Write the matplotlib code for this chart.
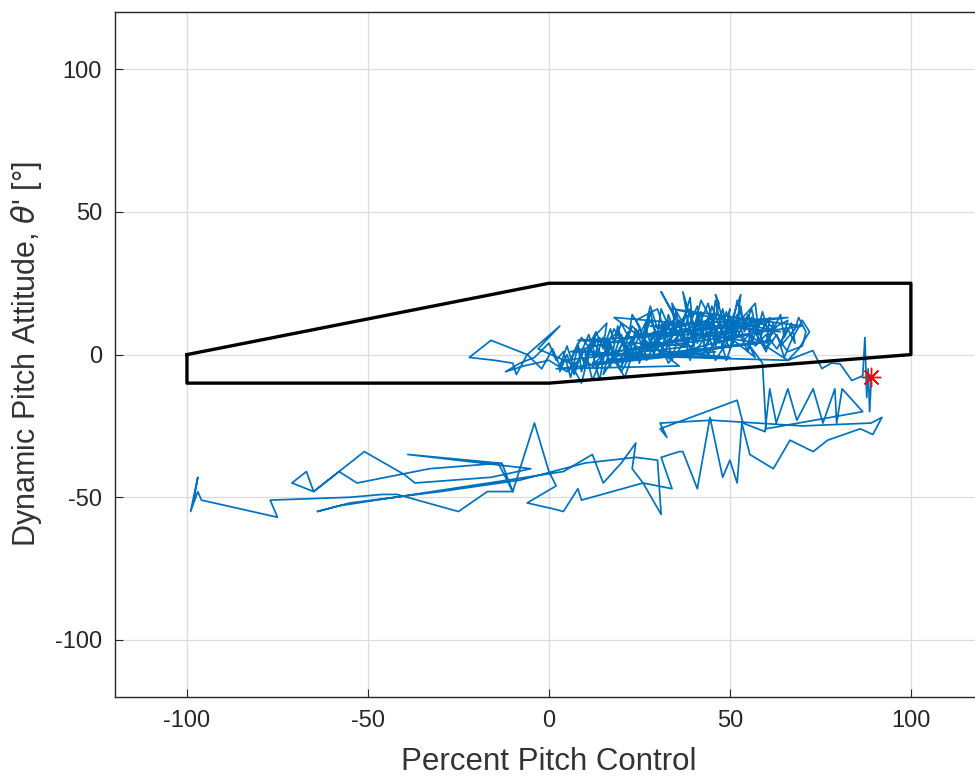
import matplotlib
matplotlib.use('Agg')
import matplotlib.pyplot as plt

plt.rcParams['font.family'] = ['Liberation Sans', 'DejaVu Sans']
plt.rcParams['axes.unicode_minus'] = False

# envelope (percent control, pitch deg)
env_x = [-100, 0, 100, 100, 0, -100, -100]
env_y = [0, 25, 25, 0, -10, -10, 0]

# lower band of the trace, starting at the far left
low_x = [-98, -97, -99, -97, -96, -75, -77, -55, -46, -42, -25, -17, -10, -14, -39, -5, -16, -37,
         -40, -51, -58, -65, -71, -67, -65, -58, -53, -33, -13, -10, -4, 0, 2, -6, 1, 4, 8, 9, 26,
         23, 24, 20, 15, 12, 4, -58, -64, -55, -30, -8, 10, 24, 30, 31, 26, 34, 31, 36]
low_y = [-50, -43, -55, -48, -51, -57, -51, -50, -49, -49, -55, -48, -48, -38, -35, -40, -43, -45,
         -42, -34, -41, -48, -45, -41, -48, -41, -45, -40, -38, -48, -24, -41, -46, -52, -54, -55,
         -47, -51, -45, -40, -31, -38, -45, -35, -41, -53, -55, -52, -48, -44, -38, -36, -37, -56,
         -45, -47, -36, -34]

# right side zigzags below the envelope
right_x = [37, 41, 44.5, 48, 50, 52, 53.3, 55.5, 62, 66.6, 73, 77, 86, 89.5, 92, 89, 70, 45,
           30.7, 32.6, 30.7, 52, 53.6, 59.7, 61, 62.8, 66, 68.5, 73, 75.7, 79, 79.5, 81, 86.7,
           60, 59]
right_y = [-34, -47, -22, -43, -37, -45, -24, -35, -40, -30, -34, -30, -26, -28, -22, -24, -25,
           -23, -24, -29, -26, -16, -24, -27, -12, -24, -12, -23, -12, -24, -12, -24, -12, -20,
           -26, -3]

# dense cluster inside the envelope, first pass
clu_x = [55, 57, 50, 46, 44, 40, 38, 33, 30, 27, 24, 20, 17, 14, 12, 10, 7, 5, 3, 1, -2, -6, -9,
         -10, -15, -22, -16, -6, 3, -3, 6, 9, 11, 13, 16, 15, 19, 22, 20, 25, 27, 24, 30, 32, 29,
         35, 31, 36, 38, 37, 40, 42, 45, 44, 47, 46, 49, 50, 48, 53, 52, 55, 57, 58, 61, 60, 63,
         66, 64, 68, 69, 71, 70, 66, 62, 58, 54, 52, 50, 47, 45, 43, 41, 39, 37, 34, 33, 30, 28,
         26, 23, 21, 18, 15, 12, 10, 8, 6, 4, 2, 0, -4, -8, -12, -7, 0, 5, 9, 13, 16, 19, 23, 26,
         29, 32, 35, 38, 41, 44, 47, 49, 52, 55, 57, 60, 63, 65, 67, 70, 72, 69, 66]
clu_y = [4, -1, 6, -2, 8, 0, 5, -3, 6, -2, 3, -6, 4, -3, -9, 2, -5, 3, -4, 2, -5, 0, -7, -3, -2,
         -1, 5, 0, 10, 2, -3, -10, 0, 7, 11, 3, 8, 2, -4, 9, 4, 12, 16, 8, 3, 13, 22, 10, 15, 22,
         9, 19, 12, 4, 18, 21, 8, 16, 3, 21, 11, 15, 18, 7, 13, 4, 10, 12, 3, 9, 13, 8, 3, 1, 8,
         12, 5, 14, 2, 10, 17, 5, 13, -2, 9, 4, 12, 9, 17, 6, 10, 3, 9, -1, 5, -4, 3, -8, 1, -2,
         4, -1, -3, -6, -4, -2, -6, -1, -5, 2, -3, 5, -1, 8, 1, 9, 3, 11, 0, 7, -2, 9, 1, 11, 2, 7,
         -1, 5, 12, 8, 2, -2]

# dense cluster, second pass
clu2_x = [10, 14, 12, 17, 15, 19, 22, 18, 21, 24, 27, 25, 29, 31, 33, 35, 34, 37, 39, 40, 42,
          43, 45, 46, 48, 47, 50, 51, 53, 54, 56, 55, 58, 59, 61, 62, 60, 57, 55, 52, 50, 48, 46,
          44, 42, 41, 39, 38, 36, 34, 33, 31, 30, 28, 26, 25, 23, 22, 20, 18, 17, 15, 13, 11, 9,
          8, 6, 9, 12, 14, 16, 18, 20, 22, 24, 26, 28, 30, 32, 34, 36, 38, 40, 42, 44, 46, 48, 50,
          52, 54, 56, 58, 60, 62, 64, 65, 67, 68, 66, 63, 60, 57, 54, 51, 49, 47, 45, 43, 41, 39,
          37, 35, 33, 31, 29, 27, 25, 23, 21, 19, 17, 15, 13, 11, 9, 7, 5, 3]
clu2_y = [0, 6, -4, 3, -7, 1, 8, -2, -8, 4, 12, 0, 6, -1, 14, 7, 18, 11, 20, 6, 15, 1, 10, 19, 7,
          14, 11, 4, 17, 8, 13, 2, 10, 15, 6, 11, 1, 8, 14, 6, 13, 9, 3, 13, 8, 17, 11, 4, 12, 6,
          10, 16, 7, 12, 5, 10, 14, 6, 11, 4, 9, 2, 8, 3, -6, 4, -2, 6, 1, -9, 5, 0, 7, -1, 9, 2,
          15, 4, 11, -2, 8, 14, 3, 12, 18, 6, 16, 5, 19, 10, 16, 4, 12, 9, 14, 6, 11, 4, 9, 2, 7,
          3, 12, 9, 15, 4, 14, 9, 4, 16, 6, 15, 3, 9, 0, 8, -3, 6, 1, 10, -4, 6, -1, 7, 1, -7, 0,
          -6]

# long sweeps across the cluster
sweep_x = [4, 40, 8, 52, 14, 60, 22, 66, 28, 58, 12, 46, 2, 36, 18, 64, 34, 70, 26, 50, 6, 44,
           16, 62, 30, 55, 66]
sweep_y = [-2, 3, 5, 8, 0, 11, 6, 13, 10, 4, -3, 1, -5, -4, 13, 8, 16, 10, 2, -1, 1, 12, -2, 5,
           -1, 7, -2]

# tail toward the final point
tail_x = [70, 72.9, 75.4, 78, 80.4, 83.7, 86.7, 87.3, 87.8, 88.2, 88.6, 89, 88.7]
tail_y = [0, 1.4, -4.9, -3, -3.2, -9.1, -7.4, 6, -15, -5, -20, -10, -8.1]

end_x = 89
end_y = -8

trace_x = low_x + right_x + clu_x + clu2_x + sweep_x + tail_x
trace_y = low_y + right_y + clu_y + clu2_y + sweep_y + tail_y

fig = plt.figure(figsize=(9.75, 7.8), dpi=100)
ax = fig.add_axes([0.1175, 0.1064, 0.891, 0.878])

ax.plot(trace_x, trace_y, color='#0072BD', lw=1.25)
ax.plot(env_x, env_y, color='black', lw=2.4)
ax.plot(end_x, end_y, ls='none', marker=(8, 2, 0), ms=14, mec='red', mfc='red', mew=1.0)

ax.set_xlim(-120, 120)
ax.set_ylim(-120, 120)
ax.set_xticks([-100, -50, 0, 50, 100])
ax.set_yticks([-100, -50, 0, 50, 100])
ax.grid(True, color='#dcdcdc', lw=0.9)
ax.set_axisbelow(True)
ax.tick_params(direction='in', length=6, colors='#262626', labelsize=17, pad=9)
for s in ax.spines.values():
    s.set_color('#262626')
    s.set_linewidth(1.0)

ax.set_xlabel('Percent Pitch Control', fontsize=22.5, color='#333333', labelpad=11)
ax.set_ylabel("Dynamic Pitch Attitude, $\\theta$' [°]", fontsize=22, color='#333333', labelpad=8)

fig.savefig('out.png', dpi=100)
